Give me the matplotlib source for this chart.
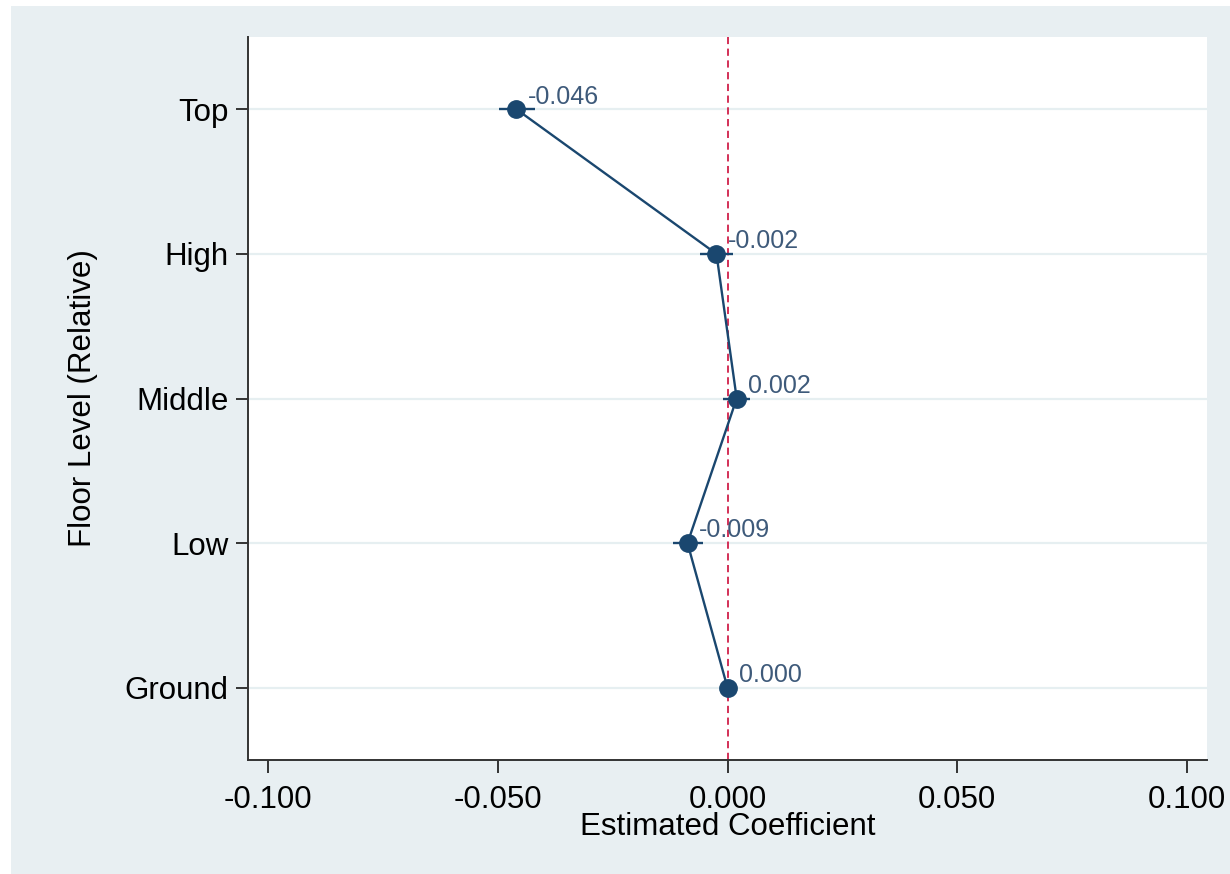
import matplotlib
matplotlib.use('Agg')
import matplotlib.pyplot as plt
from matplotlib.patches import Rectangle

plt.rcParams['font.family'] = ['Liberation Sans', 'DejaVu Sans']

levels = ['Ground', 'Low', 'Middle', 'High', 'Top']
coef = [0.000, -0.0087, 0.0020, -0.0024, -0.0459]
ci_lo = [0.000, -0.0118, -0.0010, -0.0059, -0.0498]
ci_hi = [0.000, -0.0054, 0.0050, 0.0013, -0.0418]
labels = ['0.000', '-0.009', '0.002', '-0.002', '-0.046']
xticks = [-0.1, -0.05, 0.0, 0.05, 0.1]
xticklabels = ['-0.100', '-0.050', '0.000', '0.050', '0.100']

navy = '#1a476f'
pos = list(range(1, len(levels) + 1))

fig = plt.figure(figsize=(12.3, 8.74), dpi=100)
fig.patch.set_facecolor('white')
fig.patches.append(Rectangle((11 / 1230, 0), 1 - 11 / 1230, 1 - 6 / 874,
                             transform=fig.transFigure, facecolor='#e8eff2',
                             edgecolor='none', zorder=-10))

ax = fig.add_axes([248 / 1230, 1 - 760 / 874, (1207 - 248) / 1230, (760 - 37) / 874])
ax.set_facecolor('white')

for p in pos:
    ax.axhline(p, color='#e6eff1', lw=1.6, zorder=0)
ax.axvline(0, color='#d0204a', lw=1.3, ls=(0, (4, 2.5)), zorder=1)

ax.hlines(pos, ci_lo, ci_hi, color=navy, lw=1.7, zorder=2)
ax.plot(coef, pos, color=navy, lw=1.7, marker='o', markersize=12.5, zorder=3)

for x, y, s in zip(coef, pos, labels):
    ax.annotate(s, (x, y), xytext=(8, 0.5), textcoords='offset points',
                ha='left', va='bottom', fontsize=18, color='#3e5a7a')

ax.set_xlim(-0.1043, 0.1043)
ax.set_ylim(0.5, 5.5)
ax.set_yticks(pos)
ax.set_yticklabels(levels, fontsize=22.5)
ax.set_xticks(xticks)
ax.set_xticklabels(xticklabels, fontsize=22.5)
ax.tick_params(axis='both', length=9, width=1.4, color='#333333', pad=5)
ax.tick_params(axis='x', pad=9)
for s in ['top', 'right']:
    ax.spines[s].set_visible(False)
for s in ['left', 'bottom']:
    ax.spines[s].set_linewidth(1.4)
    ax.spines[s].set_color('#333333')

ax.set_xlabel('Estimated Coefficient', fontsize=22.5, labelpad=-2)
ax.set_ylabel('Floor Level (Relative)', fontsize=22.5, labelpad=19)

fig.savefig('out.png', dpi=100)
